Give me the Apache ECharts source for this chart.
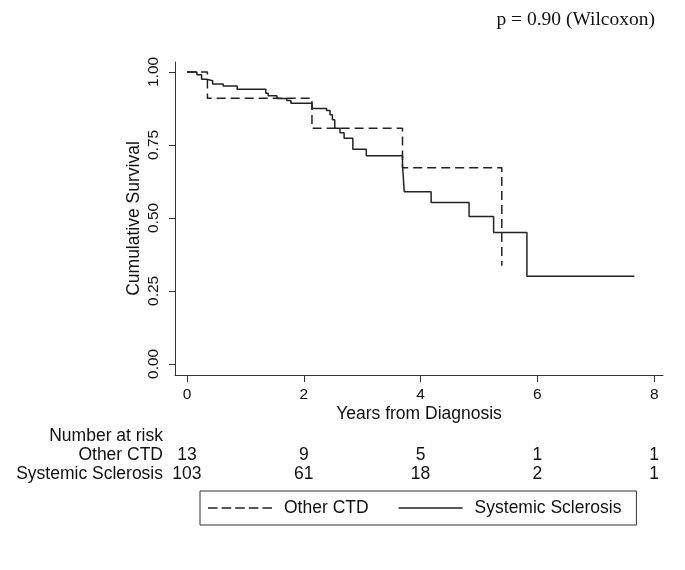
<!DOCTYPE html>
<html><head><meta charset="utf-8">
<script src="https://cdn.jsdelivr.net/npm/echarts@6/dist/echarts.min.js"></script>
<style>html,body{margin:0;padding:0;background:#fff}#c{width:685px;height:570px}</style>
</head><body><div id="c"></div>
<script>
// Kaplan-Meier step points [years, survival]
const otherCTD = [[0,1],[0.35,0.91],[2.14,0.807],[3.69,0.672],[5.39,0.336]];
const systemicSclerosis = [[0,1],[0.17,0.99],[0.25,0.975],[0.34,0.97],[0.44,0.959],[0.62,0.952],[0.86,0.941],
  [1.35,0.927],[1.39,0.918],[1.54,0.909],[1.71,0.902],[1.78,0.893],[2.14,0.875],[2.39,0.868],[2.45,0.853],
  [2.49,0.836],[2.53,0.807],[2.62,0.792],[2.69,0.773],[2.84,0.735],[3.07,0.713],[3.69,0.68],[3.72,0.59],
  [4.18,0.553],[4.83,0.505],[5.25,0.45],[5.82,0.30],[7.66,0.30]];
const xTicks = [0,2,4,6,8];
const yTicks = [0,0.25,0.5,0.75,1];
const riskGroups = ['Other CTD','Systemic Sclerosis'];
const riskOther = [13,9,5,1,1];
const riskSSc = [103,61,18,2,1];

const font = 'Liberation Sans, Arial, Helvetica, sans-serif';
const dashIcon = 'path://M0,0h9.6v1.6h-9.6z M13.6,0h9.6v1.6h-9.6z M27.2,0h9.6v1.6h-9.6z M40.8,0h9.6v1.6h-9.6z M54.4,0h9.6v1.6h-9.6z';
const chart = echarts.init(document.getElementById('c'));
chart.setOption({
  animation:false,
  grid:{left:175,right:22,top:62,bottom:195},
  xAxis:{type:'value',min:-0.205,max:8.15,
    name:'Years from Diagnosis',nameLocation:'middle',nameGap:30,nameMoveOverlap:false,
    nameTextStyle:{fontFamily:font,fontSize:17.5,color:'#111'},
    axisLine:{onZero:false,lineStyle:{color:'#333',width:1}},
    axisTick:{customValues:xTicks,length:7,lineStyle:{color:'#333'}},
    axisLabel:{customValues:xTicks,fontFamily:font,fontSize:15.5,color:'#111',margin:12},
    splitLine:{show:false}},
  yAxis:{type:'value',min:-0.038,max:1.034,
    name:'Cumulative Survival',nameLocation:'middle',nameGap:32,nameMoveOverlap:false,
    nameTextStyle:{fontFamily:font,fontSize:17.5,color:'#111'},
    axisLine:{show:true,onZero:false,lineStyle:{color:'#333',width:1}},
    axisTick:{show:true,customValues:yTicks,length:6,lineStyle:{color:'#333'}},
    axisLabel:{customValues:yTicks,rotate:90,fontFamily:font,fontSize:15.5,color:'#111',margin:13,
      formatter:v=>v.toFixed(2)},
    splitLine:{show:false}},
  legend:{left:200,top:491,itemGap:30,padding:[8,15,8,8],
    borderColor:'#333',borderWidth:1,itemWidth:64,itemHeight:1.6,
    textStyle:{fontFamily:font,fontSize:17.5,color:'#111',padding:[0,0,0,7]},
    data:[{name:'Other CTD',icon:dashIcon},{name:'Systemic Sclerosis',icon:'rect'}]},
  series:[
    {name:'Other CTD',type:'line',step:'end',data:otherCTD,showSymbol:false,symbol:'none',
     lineStyle:{color:'#222',width:1.5,type:[9,5]},itemStyle:{color:'#222'}},
    {name:'Systemic Sclerosis',type:'line',step:'end',data:systemicSclerosis,showSymbol:false,symbol:'none',
     lineStyle:{color:'#222',width:1.5},itemStyle:{color:'#222'}}
  ]
});
const els = [];
const ts = {fontFamily:font,fontSize:17.5,fill:'#111'};
els.push({type:'text',x:163,y:436,style:Object.assign({text:'Number at risk',align:'right',verticalAlign:'middle'},ts)});
const rows=[riskOther,riskSSc];
rows.forEach((r,i)=>{
  const y=455+i*19;
  els.push({type:'text',x:163,y:y,style:Object.assign({text:riskGroups[i],align:'right',verticalAlign:'middle'},ts)});
  r.forEach((n,j)=>{
    const px=chart.convertToPixel({xAxisIndex:0},xTicks[j]);
    els.push({type:'text',x:px,y:y,style:Object.assign({text:String(n),align:'center',verticalAlign:'middle'},ts)});
  });
});
els.push({type:'text',x:655,y:20,style:{text:'p = 0.90 (Wilcoxon)',align:'right',verticalAlign:'middle',
  fontFamily:'Liberation Serif, Times New Roman, serif',fontSize:19.5,fill:'#111'}});
chart.setOption({graphic:{elements:els}});
</script></body></html>
